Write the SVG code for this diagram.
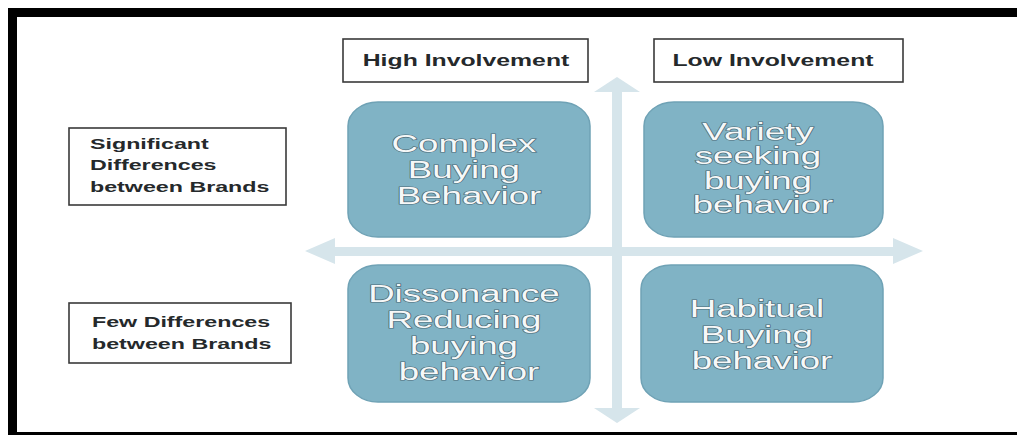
<svg xmlns="http://www.w3.org/2000/svg" width="1017" height="435" viewBox="0 0 1017 435">
  <style>
    .frame { fill: #ffffff; stroke: #000000; stroke-width: 9; }
    .label-box { fill: #ffffff; stroke: #3a3a3a; stroke-width: 1.6; }
    .label { font-family: "Liberation Sans", Arial, sans-serif; font-weight: bold; font-size: 15px; fill: #25292b; }
    .top-label { font-size: 16px; text-anchor: middle; }
    .quad { fill: #80b3c5; stroke: #6fa2b5; stroke-width: 1.5; }
    .quad-text { font-family: "Liberation Sans", Arial, sans-serif; font-size: 23.5px; fill: #f6f8f8; stroke: #4e6a75; stroke-width: 1.2; paint-order: stroke; text-anchor: middle; }
    .axis { fill: #d6e5eb; }
  </style>

  <!-- page frame -->
  <rect class="frame" x="12.5" y="12.5" width="1010" height="424"/>

  <!-- axes -->
  <g id="connectors">
    <polygon class="axis" points="305,251 335,238 335,247 893,247 893,238 923,251 893,264 893,256 335,256 335,264"/>
    <polygon class="axis" points="617,77 640,92 622,92 622,408 640,408 617,423 594,408 612,408 612,92 594,92"/>
  </g>

  <!-- axis labels -->
  <g id="high-involvement">
    <rect class="label-box" x="343" y="39" width="245" height="43"/>
    <text class="label top-label" transform="translate(466,66) scale(1.55,1)" x="0" y="0">High Involvement</text>
  </g>
  <g id="low-involvement">
    <rect class="label-box" x="654" y="39" width="249" height="43"/>
    <text class="label top-label" transform="translate(773,66) scale(1.55,1)" x="0" y="0">Low Involvement</text>
  </g>
  <g id="significant-differences">
    <rect class="label-box" x="69" y="128" width="217" height="77"/>
    <text class="label" transform="translate(90,0) scale(1.55,1)">
      <tspan x="0" y="149">Significant</tspan>
      <tspan x="0" y="170.5">Differences</tspan>
      <tspan x="0" y="192">between Brands</tspan>
    </text>
  </g>
  <g id="few-differences">
    <rect class="label-box" x="69" y="303" width="222" height="60"/>
    <text class="label" transform="translate(92,0) scale(1.55,1)">
      <tspan x="0" y="327">Few Differences</tspan>
      <tspan x="0" y="349">between Brands</tspan>
    </text>
  </g>

  <!-- quadrants -->
  <g id="complex-buying">
    <rect class="quad" x="348" y="102" width="242" height="135" rx="30" ry="24"/>
    <text class="quad-text" transform="translate(469,0) scale(1.56,1)">
      <tspan x="0" y="152">Complex</tspan>
      <tspan x="0" y="178">Buying</tspan>
      <tspan x="0" y="204">Behavior</tspan>
    </text>
  </g>
  <g id="variety-seeking">
    <rect class="quad" x="644" y="102" width="239" height="135" rx="30" ry="24"/>
    <text class="quad-text" transform="translate(763,0) scale(1.56,1)">
      <tspan x="0" y="140">Variety</tspan>
      <tspan x="0" y="164.5">seeking</tspan>
      <tspan x="0" y="189">buying</tspan>
      <tspan x="0" y="213.5">behavior</tspan>
    </text>
  </g>
  <g id="dissonance-reducing">
    <rect class="quad" x="348" y="265" width="242" height="137" rx="30" ry="24"/>
    <text class="quad-text" transform="translate(469,0) scale(1.56,1)">
      <tspan x="0" y="302">Dissonance</tspan>
      <tspan x="0" y="328">Reducing</tspan>
      <tspan x="0" y="354">buying</tspan>
      <tspan x="0" y="380">behavior</tspan>
    </text>
  </g>
  <g id="habitual-buying">
    <rect class="quad" x="641" y="265" width="242" height="137" rx="30" ry="24"/>
    <text class="quad-text" transform="translate(762,0) scale(1.56,1)">
      <tspan x="0" y="317">Habitual</tspan>
      <tspan x="0" y="343">Buying</tspan>
      <tspan x="0" y="369">behavior</tspan>
    </text>
  </g>
</svg>
